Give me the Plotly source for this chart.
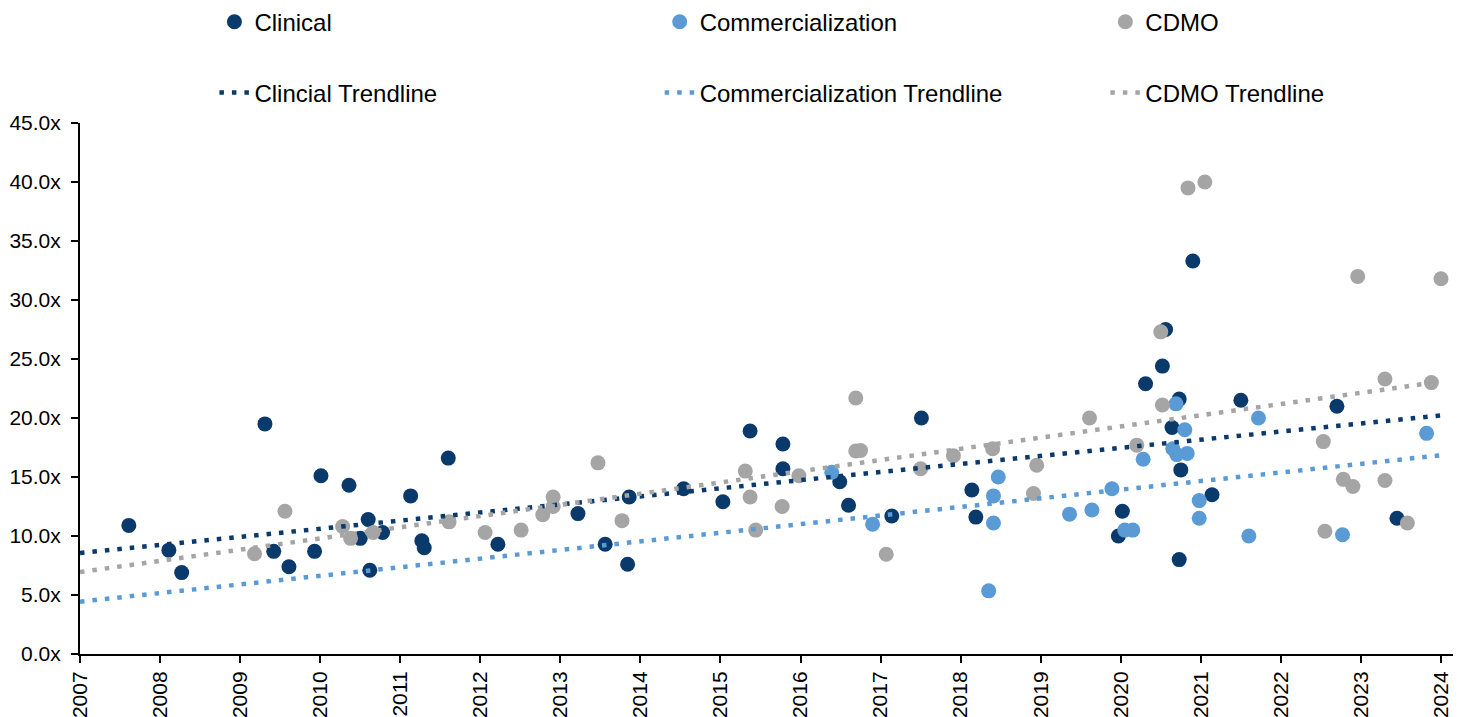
import numpy as np
import plotly.graph_objects as go

# Transaction multiples by deal date (decimal year), per segment
clinical_year = [2007.61, 2008.11, 2008.27, 2009.31, 2009.42, 2009.61, 2009.93, 2010.01,
                 2010.36, 2010.50, 2010.60, 2010.62, 2010.78, 2011.13, 2011.27, 2011.30,
                 2011.60, 2012.22, 2013.22, 2013.56, 2013.84, 2013.86, 2014.54, 2015.03,
                 2015.37, 2015.78, 2015.78, 2016.49, 2016.60, 2017.14, 2017.51, 2018.14,
                 2018.19, 2019.97, 2020.02, 2020.31, 2020.52, 2020.56, 2020.64, 2020.73,
                 2020.75, 2020.73, 2020.90, 2021.14, 2021.50, 2022.70, 2023.45]
clinical_multiple = [10.9, 8.8, 6.9, 19.5, 8.7, 7.4, 8.7, 15.1,
                     14.3, 9.8, 11.4, 7.1, 10.3, 13.4, 9.6, 9.0,
                     16.6, 9.3, 11.9, 9.3, 7.6, 13.3, 14.0, 12.9,
                     18.9, 17.8, 15.7, 14.6, 12.6, 11.7, 20.0, 13.9,
                     11.6, 10.0, 12.1, 22.9, 24.4, 27.5, 19.2, 21.6,
                     15.6, 8.0, 33.3, 13.5, 21.5, 21.0, 11.5]

commercial_year = [2016.39, 2016.90, 2018.35, 2018.47, 2018.41, 2018.41, 2019.36, 2019.64,
                   2019.89, 2020.05, 2020.15, 2020.28, 2020.69, 2020.80, 2020.65, 2020.70,
                   2020.83, 2020.98, 2020.98, 2021.60, 2021.72, 2022.77, 2023.82]
commercial_multiple = [15.4, 11.0, 5.35, 15.0, 13.4, 11.1, 11.85, 12.2,
                       14.0, 10.5, 10.5, 16.5, 21.2, 19.0, 17.4, 16.9,
                       17.0, 13.0, 11.5, 10.0, 20.0, 10.1, 18.7]

cdmo_year = [2009.18, 2009.56, 2010.28, 2010.38, 2010.66, 2011.61, 2012.06, 2012.51,
             2012.78, 2012.91, 2012.91, 2013.47, 2013.77, 2015.31, 2015.37, 2015.44,
             2015.77, 2015.98, 2016.69, 2016.69, 2016.75, 2017.07, 2017.50, 2017.91,
             2018.40, 2018.95, 2018.91, 2019.61, 2020.20, 2020.50, 2020.52, 2020.84,
             2021.05, 2022.53, 2022.55, 2022.78, 2022.90, 2022.96, 2023.30, 2023.30,
             2023.58, 2023.88, 2024.00]
cdmo_multiple = [8.5, 12.1, 10.8, 9.8, 10.3, 11.2, 10.3, 10.5,
                 11.8, 13.3, 12.5, 16.2, 11.3, 15.5, 13.3, 10.5,
                 12.5, 15.1, 21.7, 17.2, 17.25, 8.45, 15.7, 16.8,
                 17.4, 16.0, 13.6, 20.0, 17.7, 27.3, 21.1, 39.5,
                 40.0, 18.0, 10.4, 14.8, 14.2, 32.0, 23.3, 14.7,
                 11.1, 23.0, 31.8]

year_ticks = list(range(2007, 2025))
multiple_ticks = [0, 5, 10, 15, 20, 25, 30, 35, 40, 45]

NAVY = "#0A3A6C"
BLUE = "#5B9BD5"
GREY = "#A5A5A5"
FONT = "Arial, Liberation Sans, sans-serif"

fig = go.Figure()

segments = [
    ("Clinical", "Clincial Trendline", clinical_year, clinical_multiple, NAVY),
    ("Commercialization", "Commercialization Trendline", commercial_year, commercial_multiple, BLUE),
    ("CDMO", "CDMO Trendline", cdmo_year, cdmo_multiple, GREY),
]

# One single-entry legend per trace so the 3x2 key grid can be placed freely
legend_cols = [0.0979, 0.4222, 0.7468]
legend_rows = [1.190, 1.0565]

for i, (name, _, xs, ys, color) in enumerate(segments):
    fig.add_trace(go.Scatter(
        x=xs, y=ys, mode="markers", name=name, showlegend=True,
        marker=dict(size=15, color=color, line=dict(width=0)),
        legend="legend" if i == 0 else f"legend{i + 1}",
    ))

# Least-squares linear trend for each segment, extended across the full axis
trend_x = np.array([year_ticks[0], year_ticks[-1]], dtype=float)
for i, (_, tname, xs, ys, color) in enumerate(segments):
    slope, intercept = np.polyfit(np.array(xs), np.array(ys), 1)
    fig.add_trace(go.Scatter(
        x=trend_x, y=slope * trend_x + intercept, mode="lines", name=tname,
        showlegend=True,
        line=dict(color=color, width=4.5, dash="4.5px,8px"),
        legend=f"legend{i + 4}",
    ))


def legend_box(col, row):
    return dict(
        x=legend_cols[col], y=legend_rows[row], xanchor="left", yanchor="middle",
        orientation="h", font=dict(family=FONT, size=24, color="#000000"),
        bgcolor="rgba(0,0,0,0)", itemsizing="trace",
    )


fig.update_layout(
    width=1465, height=717, showlegend=True,
    margin=dict(l=80, r=12, t=123, b=63, autoexpand=False),
    paper_bgcolor="white", plot_bgcolor="white",
    font=dict(family=FONT, size=21, color="#000000"),
    legend=legend_box(0, 0), legend2=legend_box(1, 0), legend3=legend_box(2, 0),
    legend4=legend_box(0, 1), legend5=legend_box(1, 1), legend6=legend_box(2, 1),
    xaxis=dict(
        range=[2007, 2024.15], tickvals=year_ticks, ticktext=[str(y) for y in year_ticks],
        tickangle=-90, showgrid=False, zeroline=False, automargin=False,
        showline=True, linecolor="#000000", linewidth=2,
        ticks="outside", ticklen=7, tickwidth=1.5, tickcolor="#000000",
        tickfont=dict(family=FONT, size=21),
    ),
    yaxis=dict(
        range=[0, 45], tickvals=multiple_ticks,
        ticktext=[f"{v:.1f}x" for v in multiple_ticks],
        showgrid=False, zeroline=False, automargin=False,
        showline=True, linecolor="#000000", linewidth=2,
        ticks="outside", ticklen=7, tickwidth=1.5, tickcolor="#000000",
        ticklabelstandoff=6,
        tickfont=dict(family=FONT, size=21),
    ),
)

fig.write_html("out.html")
